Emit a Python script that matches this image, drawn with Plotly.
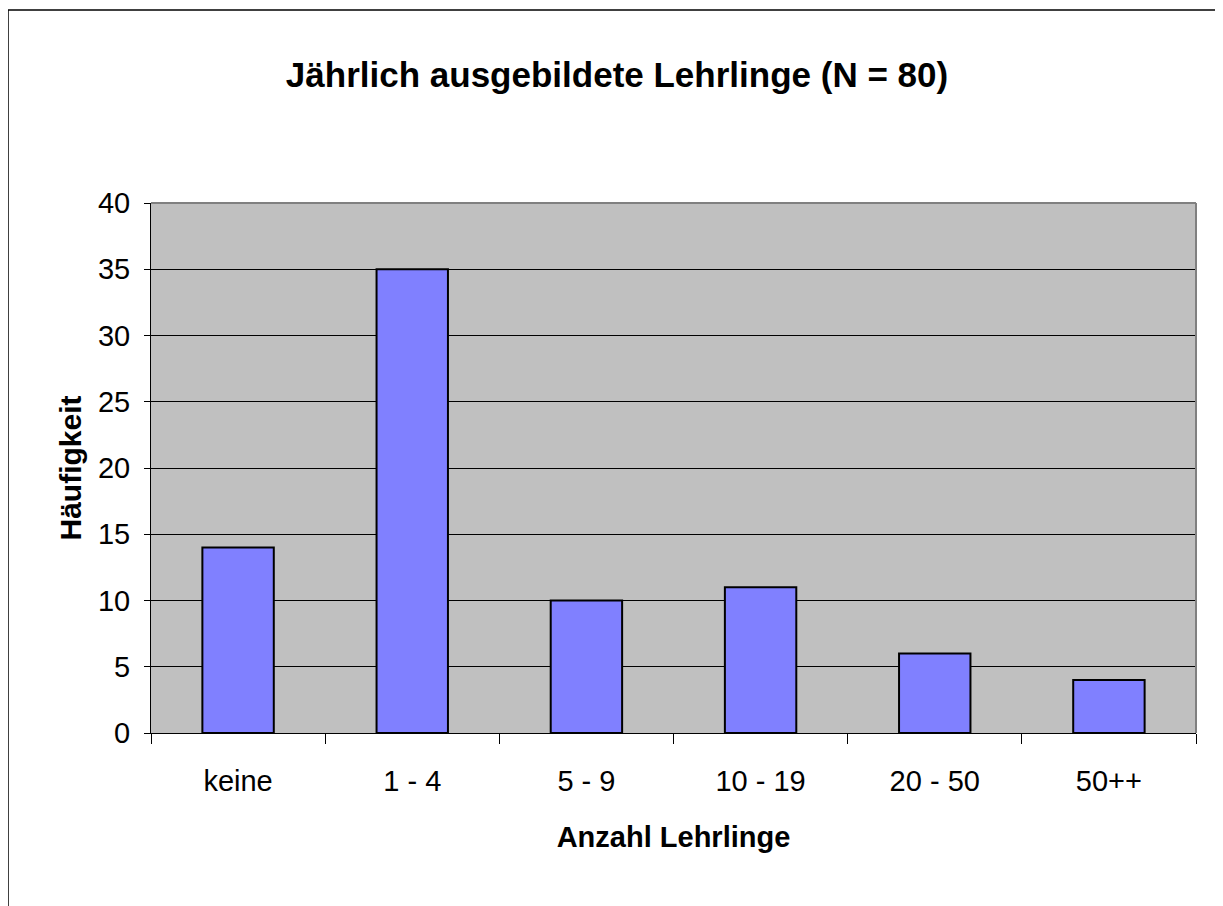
import plotly.graph_objects as go

categories = ["keine", "1 - 4", "5 - 9", "10 - 19", "20 - 50", "50++"]
values = [14, 35, 10, 11, 6, 4]
title_text = "Jährlich ausgebildete Lehrlinge (N = 80)"
x_title = "Anzahl Lehrlinge"
y_title = "Häufigkeit"
y_ticks = [0, 5, 10, 15, 20, 25, 30, 35, 40]

# page body has an 8px margin, so the figure is drawn offset by (8, 8)
OFF = 8
W, H = 1223 - OFF, 906 - OFF
L, R, T, B = 151 - OFF, 27, 203 - OFF, 173
pw, ph = W - L - R, H - T - B

font_family = "Liberation Sans, Arial, sans-serif"

fig = go.Figure(
    go.Bar(
        x=categories,
        y=values,
        marker=dict(color="#8080FF", line=dict(color="black", width=2)),
        width=0.41,
    )
)

fig.update_layout(
    width=W,
    height=H,
    margin=dict(l=L, r=R, t=T, b=B, pad=0),
    paper_bgcolor="white",
    plot_bgcolor="#C0C0C0",
    showlegend=False,
    font=dict(family=font_family, color="black"),
    title=dict(
        text="<b>" + title_text + "</b>",
        x=(617 - OFF) / W,
        xanchor="center",
        y=1 - (75 - OFF) / H,
        yanchor="middle",
        font=dict(size=35, family=font_family, color="black"),
    ),
)

fig.update_xaxes(
    type="category",
    tickson="boundaries",
    ticks="outside",
    ticklen=10,
    tickcolor="black",
    tickwidth=1,
    showline=True,
    linecolor="black",
    linewidth=1,
    showgrid=False,
    ticklabelstandoff=22,
    tickfont=dict(size=29, family=font_family),
    title=dict(text="<b>" + x_title + "</b>", font=dict(size=29, family=font_family), standoff=30),
)

fig.update_yaxes(
    range=[0, 40],
    tickvals=y_ticks,
    ticks="outside",
    ticklen=6,
    tickcolor="black",
    tickwidth=1,
    showline=True,
    linecolor="black",
    linewidth=1,
    showgrid=True,
    gridcolor="black",
    gridwidth=1,
    zeroline=False,
    ticklabelstandoff=8,
    tickfont=dict(size=29, family=font_family),
    title=dict(text="<b>" + y_title + "</b>", font=dict(size=30, family=font_family), standoff=7),
)

# gray top & right frame of plot area
fig.add_shape(type="line", xref="paper", yref="paper", x0=0, x1=1, y0=1, y1=1,
              line=dict(color="#808080", width=2), layer="above")
fig.add_shape(type="line", xref="paper", yref="paper", x0=1, x1=1, y0=0, y1=1,
              line=dict(color="#808080", width=2), layer="above")

# outer chart border (left and top visible)
bx0 = (8 - OFF - L) / pw
by1 = (H - B - (10 - OFF)) / ph
fig.add_shape(type="line", xref="paper", yref="paper", x0=bx0, x1=bx0, y0=(H - B - 920) / ph, y1=by1,
              line=dict(color="black", width=1.5), layer="above")
fig.add_shape(type="line", xref="paper", yref="paper", x0=bx0, x1=(1240 - L) / pw, y0=by1, y1=by1,
              line=dict(color="black", width=1.5), layer="above")

fig.write_html("out.html")
